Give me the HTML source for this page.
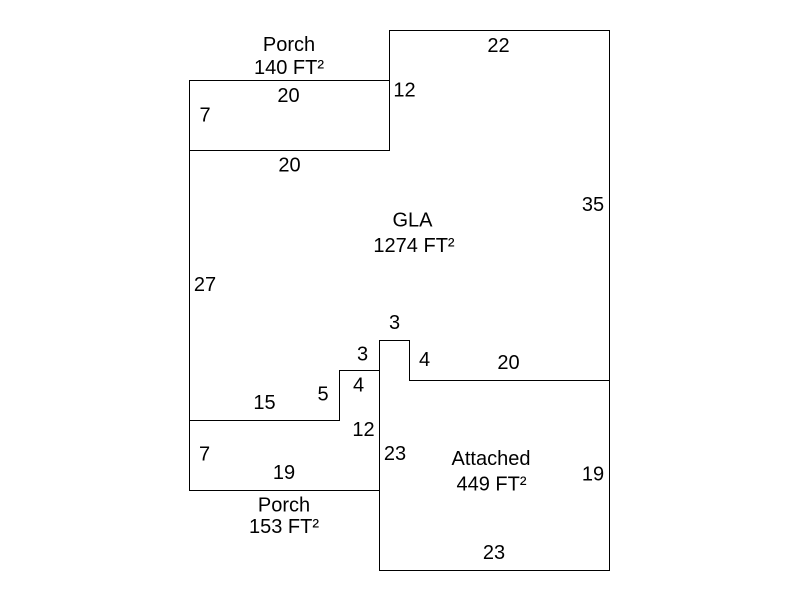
<!DOCTYPE html>
<html>
<head>
<meta charset="utf-8">
<style>
  html, body { margin: 0; padding: 0; background: #fff; }
  svg { display: block; }
  text { font-family: "Liberation Sans", Arial, sans-serif; font-size: 20px; fill: #000; }
</style>
</head>
<body>
<svg width="800" height="600" viewBox="0 0 800 600" xmlns="http://www.w3.org/2000/svg">
  <rect x="0" y="0" width="800" height="600" fill="#fff"/>
  <g fill="none" stroke="#000" stroke-width="1" shape-rendering="crispEdges">
    <!-- GLA outline -->
    <path d="M389.5 30.5 H609.5 V380.5 H409.5 V340.5 H379.5 V370.5 H339.5 V420.5 H189.5 V80.5 H389.5 Z"/>
    <!-- Porch top -->
    <path d="M189.5 150.5 H389.5 V80.5"/>
    <!-- Porch bottom -->
    <path d="M189.5 420.5 V490.5 H379.5"/>
    <!-- Attached -->
    <path d="M379.5 370.5 V570.5 H609.5 V380.5"/>
  </g>
  <g text-anchor="middle">
    <text x="289" y="51">Porch</text>
    <text x="289" y="74">140 FT²</text>
    <text x="288.5" y="102">20</text>
    <text x="205" y="121.5">7</text>
    <text x="404.5" y="96.5">12</text>
    <text x="498.5" y="52">22</text>
    <text x="289.5" y="171.5">20</text>
    <text x="593" y="211">35</text>
    <text x="412.5" y="226.5">GLA</text>
    <text x="414" y="252">1274 FT²</text>
    <text x="205" y="291">27</text>
    <text x="394.5" y="329">3</text>
    <text x="362.5" y="360.5">3</text>
    <text x="424.5" y="366">4</text>
    <text x="508.5" y="369">20</text>
    <text x="358.5" y="391.5">4</text>
    <text x="323" y="400.5">5</text>
    <text x="264.5" y="409">15</text>
    <text x="363.5" y="436">12</text>
    <text x="204.5" y="460.5">7</text>
    <text x="395" y="460">23</text>
    <text x="284" y="479">19</text>
    <text x="491" y="465">Attached</text>
    <text x="491.5" y="490.5">449 FT²</text>
    <text x="593" y="480.5">19</text>
    <text x="284" y="511.5">Porch</text>
    <text x="284" y="533">153 FT²</text>
    <text x="494" y="559">23</text>
  </g>
</svg>
</body>
</html>
